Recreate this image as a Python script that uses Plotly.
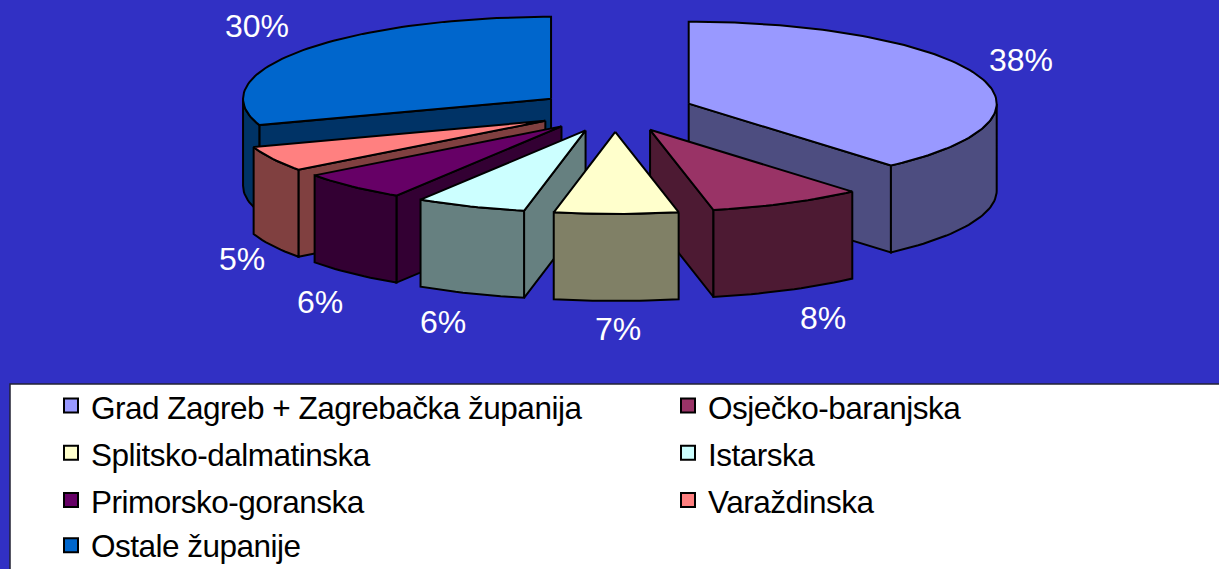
import math
import plotly.graph_objects as go

categories = ["Grad Zagreb + Zagrebačka županija", "Osječko-baranjska", "Splitsko-dalmatinska",
              "Istarska", "Primorsko-goranska", "Varaždinska", "Ostale županije"]
values = [38.6, 8.1, 6.5, 5.8, 5.8, 5.0, 30.2]
labels = ["38%", "8%", "7%", "6%", "6%", "5%", "30%"]
top_colors = ["#9999ff", "#993366", "#ffffcc", "#ccffff", "#660066", "#ff8080", "#0066cc"]
side_colors = ["#4d4d80", "#4d1a33", "#808066", "#668080", "#330033", "#804040", "#003366"]
legend_slot = ["legend", "legend2", "legend", "legend2", "legend", "legend2", "legend3"]

# projection of the pie on the page (axes run in page pixels)
W, H = 1219, 569
CX, CY, RX, RY, PULL, DEPTH = 615, 111, 308, 82, 0.2555, 87
LABEL_AT = [(1021, 60), (823, 318), (618, 329), (443, 322), (320, 302), (242, 259), (257, 26)]
FONT = "Liberation Sans, Arial, sans-serif"

total = sum(values)
slices = []
acc = 0.0
for i, v in enumerate(values):
    a0 = acc / total * 2 * math.pi
    acc += v
    a1 = acc / total * 2 * math.pi
    slices.append((i, a0, a1, (a0 + a1) / 2))

fig = go.Figure()


def poly(xs, ys, color):
    fig.add_trace(go.Scatter(x=xs, y=ys, mode="lines", fill="toself", fillcolor=color,
                             line=dict(color="black", width=2), hoverinfo="skip",
                             showlegend=False))


def cut_visible(t, mid):
    dx, dy = RX * math.sin(t), -RY * math.cos(t)
    mx, my = RX * math.sin(mid), -RY * math.cos(mid)
    return dx * (dx * my - dy * mx) < -1e-6


for i, a0, a1, mid in sorted(slices, key=lambda s: -math.cos(s[3])):
    ax = CX + PULL * RX * math.sin(mid)
    ay = CY - PULL * RY * math.cos(mid)
    n = max(3, int((a1 - a0) * 40))
    ang = [a0 + (a1 - a0) * k / n for k in range(n + 1)]
    ex = [ax + RX * math.sin(t) for t in ang]
    ey = [ay - RY * math.cos(t) for t in ang]
    if cut_visible(a0, mid):
        poly([ax, ex[0], ex[0], ax, ax], [ay, ey[0], ey[0] + DEPTH, ay + DEPTH, ay], side_colors[i])
    if cut_visible(a1, mid):
        poly([ax, ex[-1], ex[-1], ax, ax], [ay, ey[-1], ey[-1] + DEPTH, ay + DEPTH, ay], side_colors[i])
    front = [k for k, t in enumerate(ang) if math.cos(t) <= 0.02]
    if front:
        fx = [ex[k] for k in front]
        fy = [ey[k] for k in front]
        poly(fx + fx[::-1] + [fx[0]], fy + [y + DEPTH for y in fy[::-1]] + [fy[0]], side_colors[i])
    poly([ax] + ex + [ax], [ay] + ey + [ay], top_colors[i])

for name, c, slot in zip(categories, top_colors, legend_slot):
    fig.add_trace(go.Scatter(x=[None], y=[None], mode="markers", legend=slot,
                             name=f'<span style="font-size:31.5px;letter-spacing:-0.5px">{name}</span>',
                             marker=dict(symbol="square", size=14, color=c,
                                         line=dict(color="black", width=2))))

annotations = [dict(x=x, y=y, text=t, showarrow=False, xref="x", yref="y",
                    font=dict(family=FONT, size=32, color="white"))
               for (x, y), t in zip(LABEL_AT, labels)]


def legend_at(x, top, size=34):
    return dict(x=x / W, y=(H - top) / H, xanchor="left", yanchor="top", orientation="v",
                bgcolor="rgba(0,0,0,0)", tracegroupgap=0, traceorder="normal",
                font=dict(family=FONT, size=size, color="black"))


fig.update_layout(
    width=W, height=H, autosize=False,
    margin=dict(l=0, r=0, t=0, b=0, autoexpand=False),
    paper_bgcolor="#3130c4", plot_bgcolor="#3130c4",
    xaxis=dict(range=[0, W], visible=False, fixedrange=True),
    yaxis=dict(range=[H, 0], visible=False, fixedrange=True),
    annotations=annotations,
    shapes=[dict(type="rect", xref="x", yref="y", x0=10, x1=W + 5, y0=384, y1=H + 5,
                 fillcolor="white", line=dict(color="#222233", width=1.5), layer="below")],
    legend=legend_at(51, 377),
    legend2=legend_at(668, 377),
    legend3=legend_at(51, 520, 29),
)
fig.write_html("out.html", config=dict(displayModeBar=False), post_script=(
    "document.body.style.margin='0';document.documentElement.style.overflow='hidden';"))
